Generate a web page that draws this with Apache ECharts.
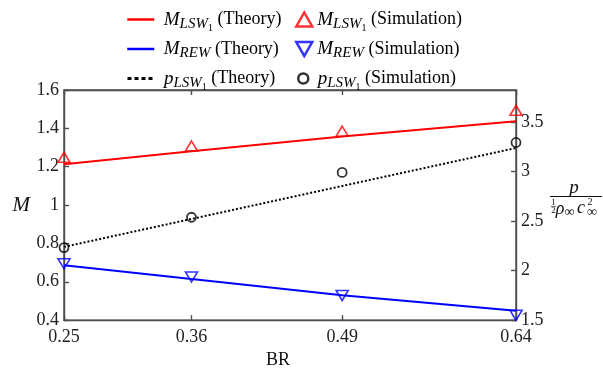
<!DOCTYPE html>
<html>
<head>
<meta charset="utf-8">
<script src="https://cdn.jsdelivr.net/npm/echarts@6/dist/echarts.min.js"></script>
<style>
  html, body { margin: 0; padding: 0; background: #fff; }
  #chart { width: 603px; height: 374px; }
</style>
</head>
<body>
<div id="chart"></div>
<script>
// Blockage ratio values along the x axis
const br = [0.25, 0.36, 0.49, 0.64];

// Mach number, theory curves and simulation points
const mLswTheory = [1.213, 1.281, 1.358, 1.437];
const mLswSim = [1.249, 1.308, 1.385, 1.494];
const mRewTheory = [0.686, 0.614, 0.530, 0.449];
const mRewSim = [0.694, 0.625, 0.528, 0.425];

// Normalised pressure (right axis)
const pLswTheory = [2.240, 2.522, 2.855, 3.239];
const pLswSim = [2.233, 2.539, 2.992, 3.295];

// Axis ticks
const xTicks = [0.25, 0.36, 0.49, 0.64];

const FONT = '"Liberation Serif", "Times New Roman", serif';
const AXIS_COLOR = '#4d4d4d';

const pair = (xs, ys) => xs.map((x, i) => [x, ys[i]]);

const DOWN_TRIANGLE = 'path://M0,0L10,0L5,8.66Z';

// Legend text with italic symbol and nested subscripts (lowered through top padding)
const legendRich = {
  mi: { fontFamily: FONT, fontStyle: 'italic', fontSize: 19, lineHeight: 30, color: '#000' },
  sb: { fontFamily: FONT, fontStyle: 'italic', fontSize: 15, lineHeight: 15, padding: [9, 0, 0, 0], color: '#000' },
  ss: { fontFamily: FONT, fontSize: 10, lineHeight: 10, padding: [17, 0, 0, 0], color: '#000' },
  tx: { fontFamily: FONT, fontSize: 18, lineHeight: 30, color: '#000' }
};

const legendLabels = {
  'lswTheory': '{tx| }{mi|M}{sb|LSW}{ss|1}{tx| (Theory)}',
  'lswSim': '{mi|M}{sb|LSW}{ss|1}{tx| (Simulation)}',
  'rewTheory': '{tx| }{mi|M}{sb|REW}{tx| (Theory)}',
  'rewSim': '{mi|M}{sb|REW}{tx| (Simulation)}',
  'pTheory': '{tx| }{mi|p}{sb|LSW}{ss|1}{tx| (Theory)}',
  'pSim': '{tx| }{mi|p}{sb|LSW}{ss|1}{tx| (Simulation)}'
};

// Hides the marker that line-series legend icons carry by default
const noMarker = { color: 'rgba(0,0,0,0)', borderColor: 'rgba(0,0,0,0)', borderWidth: 0 };

function legendFor(name, left, rowCenter, w, h, extra) {
  return Object.assign({
    data: [name],
    left: left,
    top: rowCenter - 12,
    padding: 0,
    itemWidth: w,
    itemHeight: h,
    selectedMode: false,
    formatter: n => legendLabels[n],
    textStyle: { fontFamily: FONT, fontSize: 18, color: '#000', rich: legendRich }
  }, extra || {});
}

const chart = echarts.init(document.getElementById('chart'), null, { renderer: 'canvas' });

const axisLineStyle = { color: AXIS_COLOR, width: 1.4 };

const option = {
  animation: false,
  backgroundColor: '#fff',
  grid: {
    left: 64, right: 87, top: 90, bottom: 46,
    show: true, borderColor: AXIS_COLOR, borderWidth: 1.4, backgroundColor: 'transparent'
  },
  legend: [
    legendFor('lswTheory', 126, 18, 27, 14, { lineStyle: { width: 2.5 }, itemStyle: noMarker }),
    legendFor('rewTheory', 126, 49, 27, 14, { lineStyle: { width: 2.5 }, itemStyle: noMarker }),
    legendFor('pTheory', 126, 77, 27, 14, { lineStyle: { width: 3, type: [4, 3] }, itemStyle: noMarker }),
    legendFor('lswSim', 295, 18, 16, 14, { itemStyle: { borderWidth: 2.5 } }),
    legendFor('rewSim', 295, 49, 16, 14, { itemStyle: { borderWidth: 2.5 } }),
    legendFor('pSim', 297, 77, 10, 10, { itemStyle: { borderWidth: 2.5 } })
  ],
  xAxis: [
    {
      type: 'value', position: 'bottom', min: 0.25, max: 0.64,
      name: 'BR', nameLocation: 'middle', nameGap: 26,
      nameTextStyle: { fontFamily: FONT, fontSize: 18, color: '#111', padding: [0, 24, 0, 0] },
      axisLine: { show: true, lineStyle: axisLineStyle },
      axisTick: { show: true, inside: true, length: 5, customValues: xTicks, lineStyle: axisLineStyle },
      axisLabel: { customValues: xTicks, fontFamily: FONT, fontSize: 18, color: '#222', margin: 8,
        formatter: v => v.toFixed(2) },
      splitLine: { show: false }
    },
    {
      type: 'value', position: 'top', min: 0.25, max: 0.64,
      axisLine: { show: true, lineStyle: axisLineStyle },
      axisTick: { show: true, inside: true, length: 5, customValues: xTicks, lineStyle: axisLineStyle },
      axisLabel: { show: false },
      splitLine: { show: false }
    }
  ],
  yAxis: [
    {
      type: 'value', position: 'left', min: 0.4, max: 1.6, interval: 0.2,
      name: 'M', nameLocation: 'middle', nameRotate: 0, nameGap: 34,
      nameTextStyle: { fontFamily: FONT, fontStyle: 'italic', fontSize: 21, color: '#111' },
      axisLine: { show: true, lineStyle: axisLineStyle },
      axisTick: { show: true, inside: true, length: 5, lineStyle: axisLineStyle },
      axisLabel: { fontFamily: FONT, fontSize: 18, color: '#222', margin: 5 },
      splitLine: { show: false }
    },
    {
      type: 'value', position: 'right', min: 1.5, max: 3.825, interval: 0.5,
      axisLine: { show: true, lineStyle: axisLineStyle },
      axisTick: { show: true, inside: true, length: 5, lineStyle: axisLineStyle },
      axisLabel: { fontFamily: FONT, fontSize: 18, color: '#222', margin: 5, showMaxLabel: false },
      splitLine: { show: false }
    }
  ],
  series: [
    {
      name: 'lswTheory', type: 'line', data: pair(br, mLswTheory), symbol: 'none',
      lineStyle: { color: '#ff0000', width: 2 }, itemStyle: { color: '#ff0000' }, z: 2
    },
    {
      name: 'rewTheory', type: 'line', data: pair(br, mRewTheory), symbol: 'none',
      lineStyle: { color: '#0000ff', width: 2 }, itemStyle: { color: '#0000ff' }, z: 2
    },
    {
      name: 'pTheory', type: 'line', yAxisIndex: 1, data: pair(br, pLswTheory), symbol: 'none',
      lineStyle: { color: '#000', width: 2, type: [2, 2] }, itemStyle: { color: '#000' }, z: 2
    },
    {
      name: 'lswSim', type: 'scatter', data: pair(br, mLswSim), symbol: 'triangle', symbolSize: [12, 10],
      itemStyle: { color: 'rgba(255,255,255,0)', borderColor: '#ff0000', borderWidth: 1.6 }, z: 3
    },
    {
      name: 'rewSim', type: 'scatter', data: pair(br, mRewSim), symbol: DOWN_TRIANGLE, symbolSize: [12, 10],
      itemStyle: { color: 'rgba(255,255,255,0)', borderColor: '#0000ff', borderWidth: 1.6 }, z: 3
    },
    {
      name: 'pSim', type: 'scatter', yAxisIndex: 1, data: pair(br, pLswSim), symbol: 'circle', symbolSize: 9,
      itemStyle: { color: 'rgba(255,255,255,0)', borderColor: '#000', borderWidth: 1.8 }, z: 3
    }
  ],
  // Right axis title: p over (1/2) rho_inf c_inf^2
  graphic: [
    { type: 'text', style: { text: 'p', x: 574, y: 188, font: 'italic 19px ' + FONT, fill: '#111', align: 'center', verticalAlign: 'middle' } },
    { type: 'line', shape: { x1: 550, y1: 196.5, x2: 602, y2: 196.5 }, style: { stroke: '#111', lineWidth: 1 } },
    { type: 'text', style: { text: '1', x: 553.5, y: 203, font: '9px ' + FONT, fill: '#111', align: 'center', verticalAlign: 'middle' } },
    { type: 'line', shape: { x1: 551, y1: 206.5, x2: 556, y2: 206.5 }, style: { stroke: '#111', lineWidth: 0.6 } },
    { type: 'text', style: { text: '2', x: 553.5, y: 210.5, font: '9px ' + FONT, fill: '#111', align: 'center', verticalAlign: 'middle' } },
    { type: 'text', style: { text: 'ρ', x: 560, y: 209, font: 'italic 18px ' + FONT, fill: '#111', align: 'center', verticalAlign: 'middle' } },
    { type: 'text', style: { text: '∞', x: 569.5, y: 212, font: '14px ' + FONT, fill: '#111', align: 'center', verticalAlign: 'middle' } },
    { type: 'text', style: { text: 'c', x: 581, y: 208.5, font: 'italic 18px ' + FONT, fill: '#111', align: 'center', verticalAlign: 'middle' } },
    { type: 'text', style: { text: '2', x: 590, y: 202.5, font: '10px ' + FONT, fill: '#111', align: 'center', verticalAlign: 'middle' } },
    { type: 'text', style: { text: '∞', x: 592, y: 212, font: '14px ' + FONT, fill: '#111', align: 'center', verticalAlign: 'middle' } }
  ]
};

chart.setOption(option);
</script>
</body>
</html>
